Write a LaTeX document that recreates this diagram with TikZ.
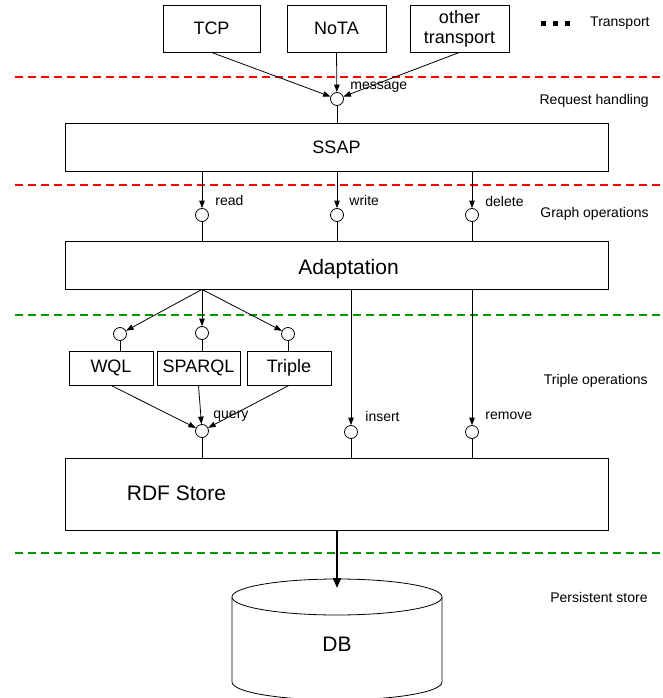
\documentclass[tikz,border=0pt]{standalone}
\usepackage{fontspec}
\setmainfont{Liberation Sans}
\usetikzlibrary{arrows.meta}
\definecolor{layerred}{RGB}{255,0,0}
\definecolor{layergreen}{RGB}{0,153,0}

\begin{document}
\begin{tikzpicture}[x=1pt,y=-1pt,line width=0.8pt,
		>={Triangle[length=7.5pt,width=5.5pt]},
		box/.style={draw,rectangle,inner sep=0pt,font=\fontsize{18}{20}\selectfont},
		port/.style={draw,circle,fill=white,minimum size=13pt,inner sep=0pt},
		lbl/.style={anchor=west,inner sep=0pt,font=\fontsize{14}{16}\selectfont},
		layer/.style={anchor=east,inner sep=0pt,font=\fontsize{14}{16}\selectfont},
		sep/.style={line width=1.5pt,dash pattern=on 8pt off 5pt}]
		\useasboundingbox (0,0) rectangle (662,698);
		
		% layer borders
		\draw [sep,layerred] (15,77) -- (660,77);
		\draw [sep,layerred] (15,185) -- (660,185);
		\draw [sep,layergreen] (15,315) -- (660,315);
		\draw [sep,layergreen] (15,553) -- (660,553);
		
		\draw [line width=5pt,dash pattern=on 5pt off 7pt] (541,24) -- (570,24);
		\node [layer] (ltransport) at (650,23) {Transport};
		\node [layer] (lrequest) at (649,101) {Request handling};
		\node [layer] (lgraph) at (649,214) {Graph operations};
		\node [layer] (ltriple) at (648,381) {Triple operations};
		\node [layer] (lpersist) at (648,597) {Persistent store};
		
		\node [box,minimum width=97pt,minimum height=47pt] (tcp) at (211.5,28.5) {TCP};
		\node [box,minimum width=99pt,minimum height=47pt] (nota) at (336.5,28.5) {NoTA};
		\node [box,minimum width=99pt,minimum height=47pt,align=center] (other) at (459.5,28.5) {other\\transport};
		
		\node [port] (cmsg) at (337,99) {};
		\node [lbl] (lmsg) at (350,87) {message};
		\draw [->] (tcp.south) -- (cmsg);
		\draw [->] (nota.south) -- (cmsg);
		\draw [->] (other.south) -- (cmsg);
		
		\node [box,minimum width=543pt,minimum height=48pt] (ssap) at (336.5,147) {SSAP};
		\draw (cmsg) -- (cmsg |- ssap.north);
		
		\node [port] (cread) at (202,215) {};
		\node [port] (cwrite) at (337,215) {};
		\node [port] (cdelete) at (472,215) {};
		\node [lbl] (lread) at (215,200) {read};
		\node [lbl] (lwrite) at (349,200) {write};
		\node [lbl] (ldelete) at (485,201) {delete};
		
		\node [box,minimum width=543pt,minimum height=48pt] (adapt) at (336.5,265) {};
		\node [font=\fontsize{21}{24}\selectfont] (ladapt) at (348.5,269) {Adaptation};
		\foreach \c in {cread,cwrite,cdelete}{
			\draw [->] (ssap.south -| \c) -- (\c);
			\draw (\c) -- (\c |- adapt.north);
		}
		
		\node [port] (cwql) at (120,334) {};
		\node [port] (csparql) at (202,333) {};
		\node [port] (ctriple) at (288,334) {};
		\coordinate (fork) at (adapt.south -| csparql);
		\draw [->] (fork) -- (cwql);
		\draw [->] (fork) -- (csparql);
		\draw [->] (fork) -- (ctriple);
		
		\node [box,minimum width=84pt,minimum height=34pt] (wql) at (111,368) {WQL};
		\node [box,minimum width=83pt,minimum height=34pt] (sparql) at (198.5,368) {SPARQL};
		\node [box,minimum width=84pt,minimum height=34pt] (triple) at (289,368) {Triple};
		\draw (cwql) -- (cwql |- wql.north);
		\draw (csparql) -- (csparql |- sparql.north);
		\draw (ctriple) -- (ctriple |- triple.north);
		
		\node [port] (cquery) at (202,431) {};
		\node [port] (cinsert) at (351,432) {};
		\node [port] (cremove) at (472,432) {};
		\node [lbl] (lquery) at (213,416) {query};
		\node [lbl] (linsert) at (365,416) {insert};
		\node [lbl] (lremove) at (485,416) {remove};
		\draw [->] (wql.south) -- (cquery);
		\draw [->] (sparql.south) -- (cquery);
		\draw [->] (triple.south) -- (cquery);
		\draw [->] (adapt.south -| cinsert) -- (cinsert);
		\draw [->] (adapt.south -| cremove) -- (cremove);
		
		\node [box,minimum width=543pt,minimum height=72pt] (rdf) at (336.5,494) {};
		\node [font=\fontsize{21}{24}\selectfont] (lrdf) at (176.5,493) {RDF Store};
		\foreach \c in {cquery,cinsert,cremove}
			\draw (\c) -- (\c |- rdf.north);
		
		% database
		\draw [fill=white] (232,597) -- (232,682) arc [start angle=180,end angle=0,x radius=105,y radius=18] -- (442,597);
		\draw [fill=white] (337,597) ellipse [x radius=105,y radius=18];
		\node [font=\fontsize{21}{24}\selectfont] (db) at (337,644) {DB};
		\coordinate (dbtop) at (337,588);
		\draw [line width=2pt,-{Triangle[length=10pt,width=8pt]}] (rdf.south -| db) -- (dbtop);
\end{tikzpicture}
\end{document}
